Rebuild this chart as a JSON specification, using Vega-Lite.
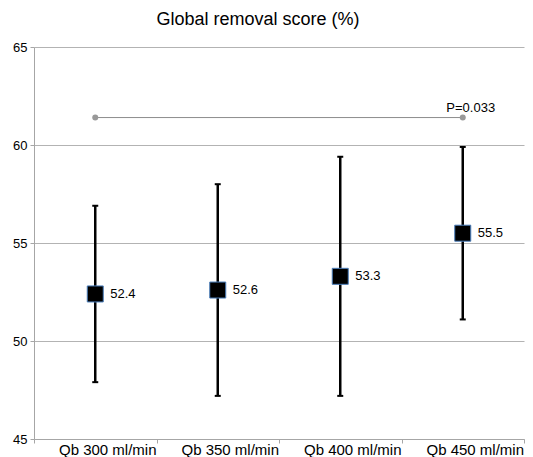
{
  "$schema": "https://vega.github.io/schema/vega-lite/v6.json",
  "autosize": {"type": "none"},
  "width": 490,
  "height": 392,
  "padding": {"left": 34, "top": 47, "right": 9, "bottom": 18},
  "background": "white",
  "config": {
    "font": "Liberation Sans",
    "view": {"stroke": null}
  },
  "title": {
    "text": "Global removal score (%)",
    "fontSize": 18,
    "fontWeight": "normal",
    "color": "#000000",
    "anchor": "middle",
    "dx": -21,
    "offset": 12
  },
  "datasets": {
    "stats": [
      {"q": "Qb 300 ml/min", "mean": 52.4, "lo": 47.9, "hi": 56.9},
      {"q": "Qb 350 ml/min", "mean": 52.6, "lo": 47.2, "hi": 58.0},
      {"q": "Qb 400 ml/min", "mean": 53.3, "lo": 47.2, "hi": 59.4},
      {"q": "Qb 450 ml/min", "mean": 55.5, "lo": 51.1, "hi": 59.9}
    ],
    "pline": [
      {"q": "Qb 300 ml/min", "y": 61.4, "label": ""},
      {"q": "Qb 450 ml/min", "y": 61.4, "label": "P=0.033"}
    ]
  },
  "encoding": {
    "x": {
      "field": "q",
      "type": "nominal",
      "sort": null,
      "scale": {"type": "band", "paddingInner": 0, "paddingOuter": 0},
      "axis": {
        "title": null,
        "labelAngle": 0,
        "labelFontSize": 15,
        "labelColor": "#000000",
        "labelOffset": 12,
        "labelPadding": -1,
        "tickBand": "extent",
        "tickSize": 4,
        "tickColor": "#a6a6a6",
        "domainColor": "#a6a6a6",
        "grid": false
      }
    }
  },
  "layer": [
    {
      "data": {"name": "stats"},
      "mark": {"type": "rule", "color": "#000000", "strokeWidth": 2.5},
      "encoding": {
        "y": {
          "field": "lo",
          "type": "quantitative",
          "scale": {"domain": [45, 65], "nice": false, "zero": false},
          "axis": {
            "title": null,
            "values": [45, 50, 55, 60, 65],
            "labelFontSize": 13,
            "labelColor": "#000000",
            "labelPadding": 3,
            "tickSize": 4,
            "tickColor": "#a6a6a6",
            "domainColor": "#a6a6a6",
            "gridColor": "#b3b3b3",
            "gridWidth": 1
          }
        },
        "y2": {"field": "hi"}
      }
    },
    {
      "data": {"name": "stats"},
      "mark": {"type": "tick", "orient": "horizontal", "color": "#000000", "size": 6, "thickness": 2, "opacity": 1},
      "encoding": {"y": {"field": "lo", "type": "quantitative"}}
    },
    {
      "data": {"name": "stats"},
      "mark": {"type": "tick", "orient": "horizontal", "color": "#000000", "size": 6, "thickness": 2, "opacity": 1},
      "encoding": {"y": {"field": "hi", "type": "quantitative"}}
    },
    {
      "data": {"name": "pline"},
      "mark": {"type": "line", "color": "#8c8c8c", "strokeWidth": 1},
      "encoding": {"y": {"field": "y", "type": "quantitative"}}
    },
    {
      "data": {"name": "pline"},
      "mark": {"type": "point", "filled": true, "color": "#999999", "size": 36, "opacity": 1},
      "encoding": {"y": {"field": "y", "type": "quantitative"}}
    },
    {
      "data": {"name": "pline"},
      "mark": {"type": "text", "fontSize": 13, "color": "#000000", "dx": 8, "dy": -6, "baseline": "alphabetic", "align": "center"},
      "encoding": {"y": {"field": "y", "type": "quantitative"}, "text": {"field": "label"}}
    },
    {
      "data": {"name": "stats"},
      "mark": {"type": "point", "shape": "square", "filled": true, "fill": "#000000", "stroke": "#4a7ebb", "strokeWidth": 1, "size": 256, "opacity": 1},
      "encoding": {"y": {"field": "mean", "type": "quantitative"}}
    },
    {
      "data": {"name": "stats"},
      "mark": {"type": "text", "fontSize": 13, "color": "#000000", "align": "left", "baseline": "middle", "dx": 15},
      "encoding": {"y": {"field": "mean", "type": "quantitative"}, "text": {"field": "mean", "type": "quantitative", "format": ".1f"}}
    }
  ]
}
